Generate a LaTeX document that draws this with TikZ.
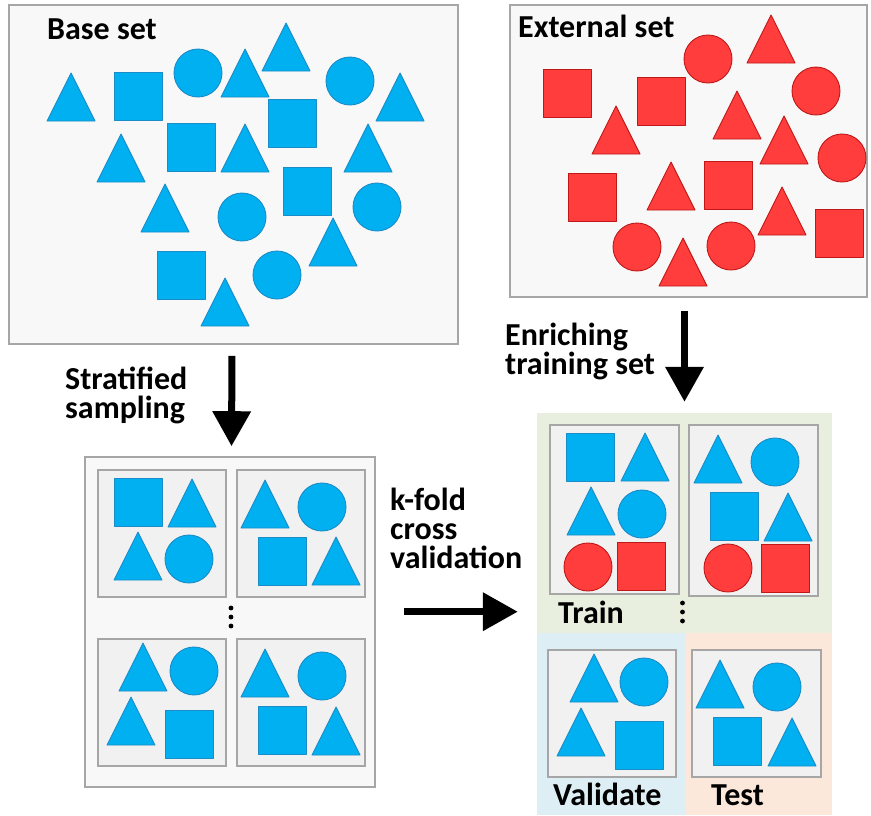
\documentclass[tikz,border=0pt]{standalone}
\usepackage{fontspec}
\setmainfont{Carlito}
\usetikzlibrary{arrows.meta}
\definecolor{bfill}{HTML}{00B0F0}
\definecolor{bline}{HTML}{1A8CC8}
\definecolor{rfill}{HTML}{FF3D3D}
\definecolor{rline}{HTML}{C01818}
\definecolor{boxline}{HTML}{A6A6A6}
\definecolor{outerfill}{HTML}{F8F8F8}
\definecolor{innerfill}{HTML}{F1F1F1}
\definecolor{greenbg}{HTML}{E9EFDF}
\definecolor{bluebg}{HTML}{DDEEF4}
\definecolor{orangebg}{HTML}{FCE8DA}
\newcommand\bTri[2]{\draw[bshape] (#1,#2) -- ++(-24,48) -- ++(48,0) -- cycle;}
\newcommand\bSq[2]{\draw[bshape] (#1,#2) rectangle ++(48,48);}
\newcommand\bCi[2]{\draw[bshape] (#1,#2) circle[radius=24pt];}
\newcommand\rTri[2]{\draw[rshape] (#1,#2) -- ++(-24,48) -- ++(48,0) -- cycle;}
\newcommand\rSq[2]{\draw[rshape] (#1,#2) rectangle ++(48,48);}
\newcommand\rCi[2]{\draw[rshape] (#1,#2) circle[radius=24pt];}
\begin{document}
\begin{tikzpicture}[x=1pt,y=-1pt,
  bshape/.style={fill=bfill,draw=bline,line width=0.9pt,line join=round},
  rshape/.style={fill=rfill,draw=rline,line width=0.9pt,line join=round},
  outerbox/.style={draw=boxline,fill=outerfill,line width=1.6pt,inner sep=0pt},
  innerbox/.style={draw=boxline,fill=innerfill,line width=1.6pt,inner sep=0pt},
  region/.style={inner sep=0pt,draw=none},
  lbl/.style={font=\fontsize{32}{29}\selectfont\bfseries,inner sep=0pt,anchor=base west,align=left},
  bigarrow/.style={line width=7pt,-{Triangle[width=37pt,length=35pt]}},
  dotmark/.style={fill=black,draw=none}]
\useasboundingbox (0,0) rectangle (871,815);

% ---------- base set ----------
\node[outerbox,minimum width=449pt,minimum height=339pt] (base) at (233.5,174.5) {};
\node[lbl] (baselbl) at (47,39) {Base set};
\bTri{71}{73}\bTri{245}{49}\bTri{286}{23}\bTri{400}{73}\bTri{121}{134}
\bTri{245}{124}\bTri{368}{124}\bTri{165}{184}\bTri{333}{218}\bTri{225}{278}
\bSq{114}{72}\bSq{167}{123}\bSq{268}{99}\bSq{283}{167}\bSq{157}{251}
\bCi{198}{73}\bCi{350}{81}\bCi{242}{217}\bCi{377}{207}\bCi{277}{275}

% ---------- external set ----------
\node[outerbox,minimum width=357pt,minimum height=292pt] (ext) at (688.5,151) {};
\node[lbl] (extlbl) at (518,37) {External set};
\rSq{543}{69}\rSq{637}{77}\rSq{568}{173}\rSq{704}{161}\rSq{815}{209}
\rCi{708}{59}\rCi{816}{91}\rCi{842}{158}\rCi{637}{247}\rCi{731}{246}
\rTri{771}{15}\rTri{616}{106}\rTri{737}{91}\rTri{784}{116}\rTri{671}{162}
\rTri{782}{187}\rTri{683}{238}

% ---------- folds ----------
\node[outerbox,minimum width=290pt,minimum height=330pt] (folds) at (230,622) {};
\node[innerbox,minimum width=128pt,minimum height=127pt] (fTL) at (162,533.5) {};
\node[innerbox,minimum width=128pt,minimum height=127pt] (fTR) at (301,533.5) {};
\node[innerbox,minimum width=128pt,minimum height=127pt] (fBL) at (162,702.5) {};
\node[innerbox,minimum width=128pt,minimum height=127pt] (fBR) at (301,702.5) {};
\bSq{114}{478}\bTri{192}{479}\bTri{138}{532}\bCi{189}{559}
\bTri{265}{480}\bCi{322}{507}\bSq{258}{537}\bTri{336}{537}
\bTri{143}{643}\bCi{194}{671}\bTri{131}{697}\bSq{165}{710}
\bTri{265}{649}\bCi{322}{676}\bSq{258}{706}\bTri{336}{707}
\fill[dotmark] (231,608) circle[radius=2.4pt] (231,617) circle[radius=2.4pt] (231,626) circle[radius=2.4pt];

% ---------- splits ----------
\node[region,fill=greenbg,minimum width=295pt,minimum height=220pt] (splits) at (684.5,523) {};
\node[region,fill=bluebg,minimum width=148pt,minimum height=182pt] (valbg) at (611,724) {};
\node[region,fill=orangebg,minimum width=147pt,minimum height=182pt] (testbg) at (758.5,724) {};
\node[innerbox,minimum width=129pt,minimum height=169pt] (train1) at (614.5,509.5) {};
\node[innerbox,minimum width=129pt,minimum height=171pt] (train2) at (753.5,510.5) {};
\node[innerbox,minimum width=128pt,minimum height=127pt] (val) at (612,713.5) {};
\node[innerbox,minimum width=129pt,minimum height=127pt] (test) at (756.5,713.5) {};
\bSq{566}{433}\bTri{645}{433}\bTri{591}{487}\bCi{642}{514}\rCi{588}{567}\rSq{617}{542}
\bTri{718}{435}\bCi{775}{462}\bSq{710}{492}\bTri{788}{493}\rCi{728}{568}\rSq{761}{544}
\bTri{594}{654}\bCi{644}{682}\bTri{581}{708}\bSq{615}{721}
\bTri{720}{660}\bCi{777}{687}\bSq{713}{717}\bTri{792}{718}
\fill[dotmark] (682.5,603) circle[radius=2.4pt] (682.5,612) circle[radius=2.4pt] (682.5,621) circle[radius=2.4pt];
\node[lbl] (trainlbl) at (558,623) {Train};
\node[lbl] (vallbl) at (553,805) {Validate};
\node[lbl] (testlbl) at (711,805) {Test};

% ---------- arrows and labels ----------
\node[lbl] (stratlbl) at (65,418) {Stratified\\sampling};
\node[lbl] (enrichlbl) at (505,374) {Enriching\\training set};
\node[lbl] (kfoldlbl) at (390,568) {k-fold\\cross\\validation};
\draw[bigarrow,shorten <=11pt,shorten >=10pt] ([xshift=-1.5pt]base.south) -- ([xshift=1.5pt]folds.north);
\draw[bigarrow,shorten <=13pt,shorten >=11pt] (ext.south -| splits.north) -- (splits.north);
\coordinate (k3) at (folds.east -| splits.west);
\draw[bigarrow,shorten <=28pt,shorten >=19pt] ([yshift=10.3pt]folds.east) -- ([yshift=10.3pt]k3);
\end{tikzpicture}
\end{document}
